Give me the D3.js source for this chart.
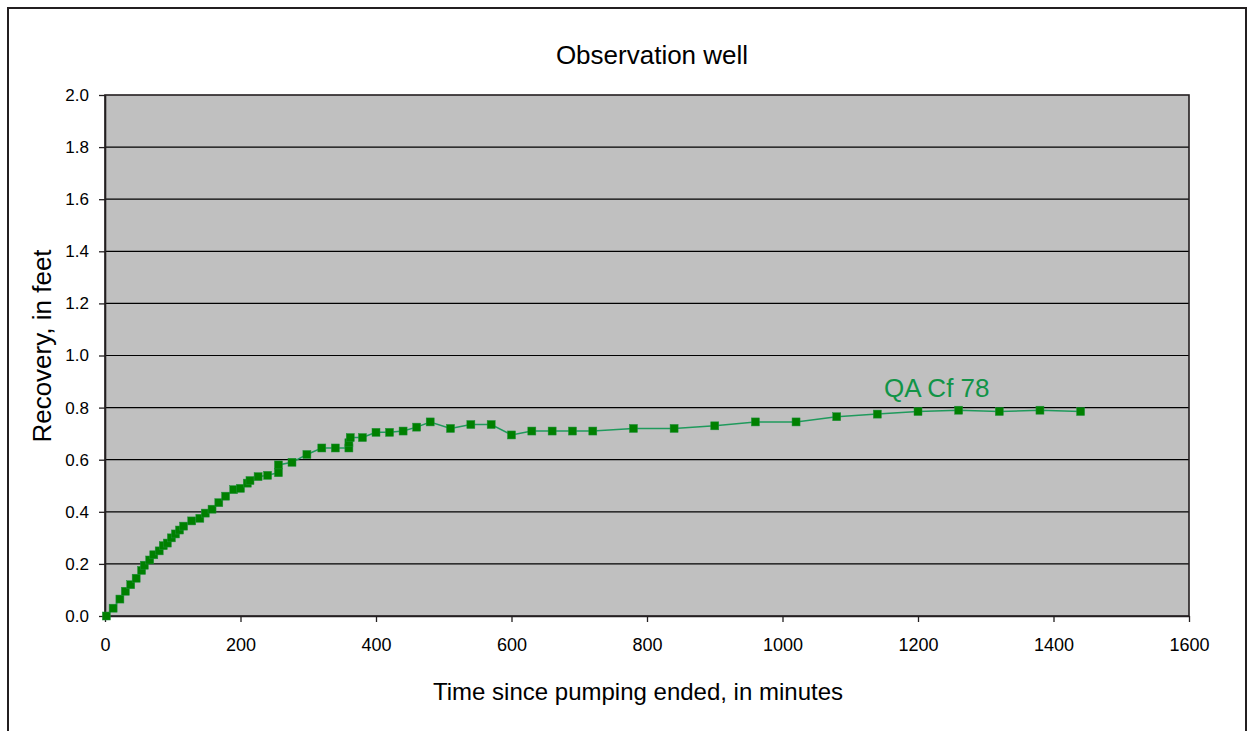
<!DOCTYPE html>
<html>
<head>
<meta charset="utf-8">
<script src="https://cdn.jsdelivr.net/npm/d3@7"></script>
<style>
html,body{margin:0;padding:0;background:#fff;}
svg{display:block;font-family:"Liberation Sans",Arial,sans-serif;}
</style>
</head>
<body>
<svg id="chart" width="1247" height="731"></svg>
<script>
const times = [2, 12, 22, 30, 38, 46, 54, 58, 66, 72, 80, 86, 92, 98, 104, 110, 116, 128, 140, 148, 158, 168, 178, 190, 200, 210, 214, 226, 240, 256, 256, 276, 298, 320, 340, 360, 360, 362, 380, 400, 420, 440, 460, 480, 510, 540, 570, 600, 630, 660, 690, 720, 780, 840, 900, 960, 1020, 1080, 1140, 1200, 1260, 1320, 1380, 1440];
const recovery = [0.00, 0.03, 0.065, 0.095, 0.12, 0.145, 0.175, 0.195, 0.215, 0.235, 0.25, 0.27, 0.28, 0.30, 0.315, 0.33, 0.345, 0.365, 0.375, 0.395, 0.41, 0.435, 0.46, 0.485, 0.49, 0.51, 0.52, 0.535, 0.54, 0.55, 0.58, 0.59, 0.62, 0.645, 0.645, 0.645, 0.665, 0.685, 0.685, 0.705, 0.705, 0.71, 0.725, 0.745, 0.72, 0.735, 0.735, 0.695, 0.71, 0.71, 0.71, 0.71, 0.72, 0.72, 0.73, 0.745, 0.745, 0.765, 0.775, 0.785, 0.79, 0.785, 0.79, 0.785];
const xTicks = [0, 200, 400, 600, 800, 1000, 1200, 1400, 1600];
const yTicks = [0.0, 0.2, 0.4, 0.6, 0.8, 1.0, 1.2, 1.4, 1.6, 1.8, 2.0];
const seriesName = "QA Cf 78";
const title = "Observation well";
const xTitle = "Time since pumping ended, in minutes";
const yTitle = "Recovery, in feet";

const data = times.map((t, i) => ({t, v: recovery[i]}));
const svg = d3.select("#chart");

// outer frame
svg.append("rect").attr("x", 8).attr("y", 8).attr("width", 1238).attr("height", 740)
  .attr("fill", "none").attr("stroke", "#231f20").attr("stroke-width", 2);

const L = 105, R = 1189, T = 95, B = 616;
const x = d3.scaleLinear().domain([0, 1600]).range([L, R]);
const y = d3.scaleLinear().domain([0, 2.0]).range([B, T]);

svg.append("rect").attr("x", L).attr("y", T).attr("width", R - L).attr("height", B - T)
  .attr("fill", "#c0c0c0");

// gridlines
svg.append("g").selectAll("line").data(yTicks.filter(d => d > 0 && d < 2)).join("line")
  .attr("x1", L).attr("x2", R).attr("y1", d => y(d)).attr("y2", d => y(d))
  .attr("stroke", "#000").attr("stroke-width", 1.2);

// plot border
svg.append("rect").attr("x", L).attr("y", T).attr("width", R - L).attr("height", B - T)
  .attr("fill", "none").attr("stroke", "#231f20").attr("stroke-width", 1.6);

// axes
const yAxis = d3.axisLeft(y).tickValues(yTicks).tickFormat(d3.format(".1f")).tickSize(6).tickSizeOuter(0);
const gy = svg.append("g").attr("transform", `translate(${L},0)`).call(yAxis);
gy.select(".domain").attr("stroke", "#231f20").attr("stroke-width", 1.6);
gy.selectAll(".tick line").attr("stroke", "#231f20").attr("stroke-width", 1.3);
gy.selectAll(".tick text").attr("font-size", 17).attr("fill", "#000").attr("x", -16)
  .attr("font-family", "Liberation Sans, Arial, sans-serif");

const xAxis = d3.axisBottom(x).tickValues(xTicks).tickFormat(d3.format("d")).tickSize(6).tickSizeOuter(0);
const gx = svg.append("g").attr("transform", `translate(0,${B})`).call(xAxis);
gx.select(".domain").attr("stroke", "#231f20").attr("stroke-width", 1.6);
gx.selectAll(".tick line").attr("stroke", "#231f20").attr("stroke-width", 1.3);
gx.selectAll(".tick text").attr("font-size", 18).attr("fill", "#000").attr("y", 35)
  .attr("dy", 0).attr("font-family", "Liberation Sans, Arial, sans-serif");

// line
const line = d3.line().x(d => x(d.t)).y(d => y(d.v));
svg.append("path").datum(data).attr("d", line).attr("fill", "none")
  .attr("stroke", "#1f9a5c").attr("stroke-width", 1.5);

// markers
const ms = 8;
svg.append("g").selectAll("rect").data(data).join("rect")
  .attr("x", d => x(d.t) - ms / 2).attr("y", d => y(d.v) - ms / 2)
  .attr("width", ms).attr("height", ms).attr("fill", "#008000")
  .attr("stroke", "#1e8f3a").attr("stroke-width", 0.5);

// series label
svg.append("text").attr("x", 884).attr("y", 397)
  .attr("font-size", 26).attr("fill", "#119447").text(seriesName);

// titles
svg.append("text").attr("x", 652).attr("y", 64).attr("text-anchor", "middle")
  .attr("font-size", 26).attr("fill", "#000").text(title);
svg.append("text").attr("x", 638).attr("y", 700).attr("text-anchor", "middle")
  .attr("font-size", 24).attr("fill", "#000").text(xTitle);
svg.append("text").attr("transform", `translate(51,346) rotate(-90)`).attr("text-anchor", "middle")
  .attr("font-size", 26).attr("fill", "#000").text(yTitle);
</script>
</body>
</html>
